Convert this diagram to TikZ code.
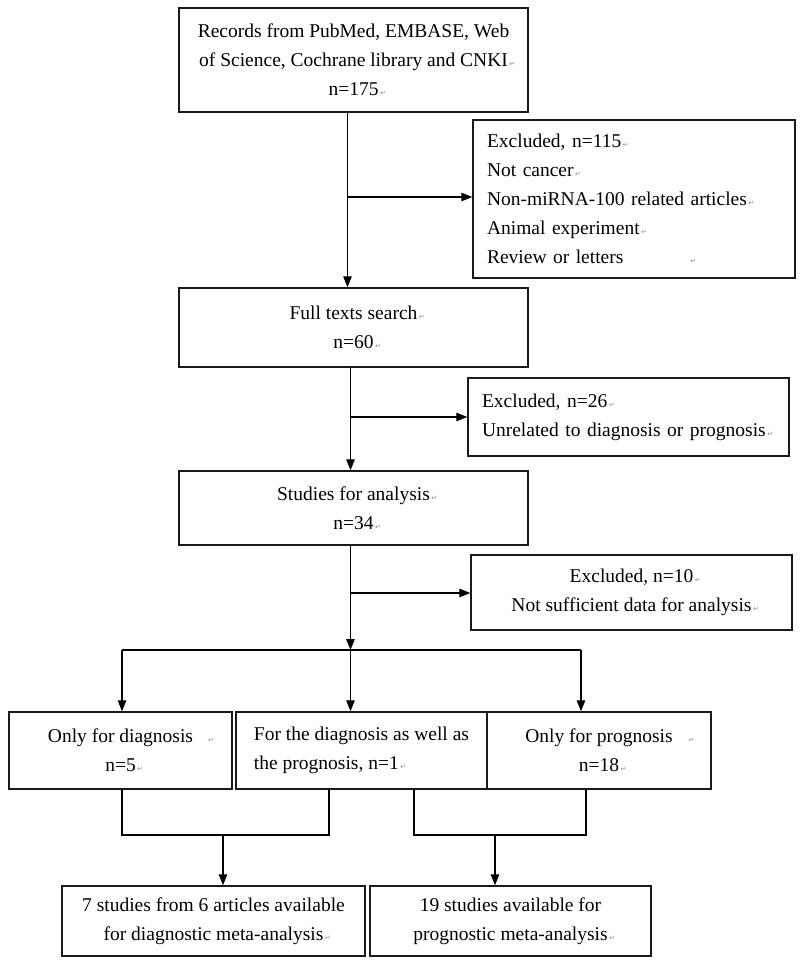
\documentclass[tikz,border=0pt]{standalone}
\usepackage{fontspec}
\setmainfont{Liberation Serif}
\newfontfamily\pmkfont{DejaVu Sans}
\usetikzlibrary{arrows.meta,calc}
\newcommand\pmk[1][1.5pt]{\rlap{\hspace{#1}{\pmkfont\fontsize{7}{7}\selectfont\textcolor{black!45}{↵}}}}
\begin{document}
\begin{tikzpicture}[x=1pt,y=-1pt,
  box/.style={draw=black!90, line width=1.4pt, inner sep=0pt,
    font=\fontsize{19.5}{29}\selectfont, align=center},
  lbox/.style={box, align=left},
  arr/.style={line width=1.2pt, -{Triangle[length=11pt,width=8.5pt]}},
  ln/.style={line width=1.2pt}]
\useasboundingbox[fill=white] (0,0) rectangle (800,965);

% main column
\node[box, minimum width=349pt, minimum height=104pt] (b1) at (353.5,60)
  {Records from PubMed, EMBASE, Web\\of Science, Cochrane library and CNKI\pmk\\n=175\pmk};
\node[box, minimum width=349pt, minimum height=79pt] (b2) at (353.5,327.5)
  {Full texts search\pmk\\n=60\pmk};
\node[box, minimum width=349pt, minimum height=74pt] (b3) at (353.5,508)
  {Studies for analysis\pmk\\n=34\pmk};

% exclusion boxes
\node[lbox, inner xsep=14pt, text width=294pt, minimum width=322pt, minimum height=158pt] (e1) at (634,199)
  {Excluded, n=115\pmk\\Not cancer\pmk\\Non-miRNA-100 related articles\pmk\\Animal experiment\pmk\\Review or letters\pmk[67pt]};
\node[lbox, inner xsep=14pt, text width=293pt, minimum width=321pt, minimum height=78pt] (e2) at (628.5,417)
  {Excluded, n=26\pmk\\Unrelated to diagnosis or prognosis\pmk};
\node[box, minimum width=321pt, minimum height=75pt] (e3) at (631.5,592.5)
  {Excluded, n=10\pmk\\Not sufficient data for analysis\pmk};

% row of three
\node[box, minimum width=223pt, minimum height=77pt] (rA) at (120.5,750.5)
  {Only for diagnosis\pmk[15pt]\\n=5\pmk};
\node[lbox, minimum width=251pt, minimum height=77pt] (rB) at (361.5,750.5)
  {For the diagnosis as well as\\the prognosis, n=1\pmk};
\node[box, minimum width=224pt, minimum height=77pt] (rC) at (599,750.5)
  {Only for prognosis\pmk[16pt]\\n=18\pmk};

% results
\node[box, minimum width=303pt, minimum height=70pt] (D) at (213.5,921)
  {7 studies from 6 articles available\\for diagnostic meta-analysis\pmk};
\node[box, minimum width=281pt, minimum height=70pt] (E) at (510.5,921)
  {19 studies available for\\prognostic meta-analysis\pmk};

% trunk and branches
\coordinate (t0) at ($(b1.south)+(-6,0)$);
\draw[arr] (t0) -- (t0 |- b2.north);
\coordinate (t1) at (347.5,197);
\draw[arr] (t1) -- (t1 -| e1.west);

\coordinate (t2) at ($(b2.south)+(-3,0)$);
\draw[arr] (t2) -- (t2 |- b3.north);
\coordinate (t3) at (350.5,417);
\draw[arr] (t3) -- (t3 -| e2.west);

\coordinate (t4) at ($(b3.south)+(-3,0)$);
\coordinate (bar) at (350.5,650);
\draw[arr] (t4) -- (bar);
\coordinate (t5) at (350.5,593);
\draw[arr] (t5) -- (t5 -| e3.west);

\coordinate (barL) at (122,650);
\coordinate (barR) at (581,650);
\draw[ln] (barL) -- (barR);
\draw[arr] (barL) -- (barL |- rA.north);
\draw[arr] (bar) -- (bar |- rB.north);
\draw[arr] (barR) -- (barR |- rC.north);

% merges
\coordinate (mA) at (122,789);
\coordinate (mB) at (329,789);
\coordinate (mL) at (223,835);
\draw[ln] (mA) -- (mA |- mL) -- (mB |- mL) -- (mB);
\draw[arr] (mL) -- (mL |- D.north);

\coordinate (mB2) at (414,789);
\coordinate (mC) at (586,789);
\coordinate (mR) at (495,835);
\draw[ln] (mB2) -- (mB2 |- mR) -- (mC |- mR) -- (mC);
\draw[arr] (mR) -- (mR |- E.north);
\end{tikzpicture}
\end{document}
